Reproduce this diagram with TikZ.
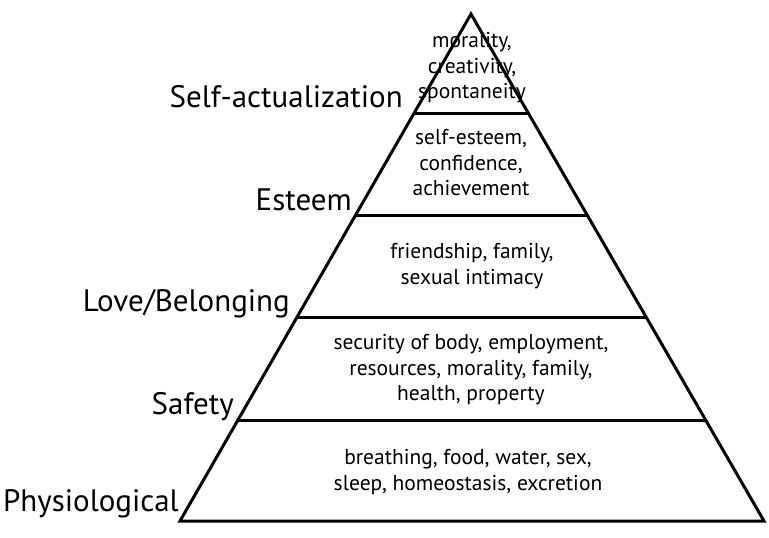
\documentclass[tikz,border=0pt]{standalone}
\usepackage{fontspec}
\setmainfont{PT Sans}
\usetikzlibrary{calc}

\begin{document}
\begin{tikzpicture}[
    x=1pt, y=-1pt,
    % Define the style for the pyramid outline and the level lines
    edgeStyle/.style={
        draw=black,
        line width=3pt,
        line join=miter
    },
    % Define the style for the level names left of the pyramid
    levelLabel/.style={
        anchor=base east,
        inner sep=0pt,
        font=\fontsize{31}{34}\selectfont
    },
    % Define the style for the needs written inside each level
    needText/.style={
        align=center,
        inner sep=0pt,
        font=\fontsize{21.5}{25.5}\selectfont
    }
]

    % --- CANVAS ---
    \useasboundingbox (0,0) rectangle (769,538);

    % --- COORDINATE DEFINITIONS ---
    % Corners of the pyramid
    \coordinate (apex) at (471,14);
    \coordinate (baseL) at (180,521);
    \coordinate (baseR) at (764,521);

    % --- OUTLINE ---
    \draw[edgeStyle] (baseL) -- (apex) -- (baseR) -- cycle;

    % --- LEVEL LINES ---
    % Fractions of the height where each level ends
    \foreach \t/\name in {0.1953/L1, 0.3984/L2, 0.5996/L3, 0.8008/L4} {
        \coordinate (\name l) at ($(apex)!\t!(baseL)$);
        \coordinate (\name r) at ($(apex)!\t!(baseR)$);
        \draw[edgeStyle] (\name l) -- (\name r);
    }

    % --- LEVEL NAMES ---
    \node[levelLabel] (selfact) at (403,107) {Self-actualization};
    \node[levelLabel] (esteem) at (352,210) {Esteem};
    \node[levelLabel] (love) at (290,311) {Love/Belonging};
    \node[levelLabel] (safety) at (234,414) {Safety};
    \node[levelLabel] (physio) at (179,511) {Physiological};

    % --- NEEDS ---
    \node[needText] (needSA) at (472,68) {morality,\\creativity,\\spontaneity};
    \node[needText] (needE) at (471,163) {self-esteem,\\confidence,\\achievement};
    \node[needText] (needL) at (472,266) {friendship, family,\\sexual intimacy};
    \node[needText] (needS) at (471,370) {security of body, employment,\\resources, morality, family,\\health, property};
    \node[needText] (needP) at (468,472) {breathing, food, water, sex,\\sleep, homeostasis, excretion};

\end{tikzpicture}
\end{document}
